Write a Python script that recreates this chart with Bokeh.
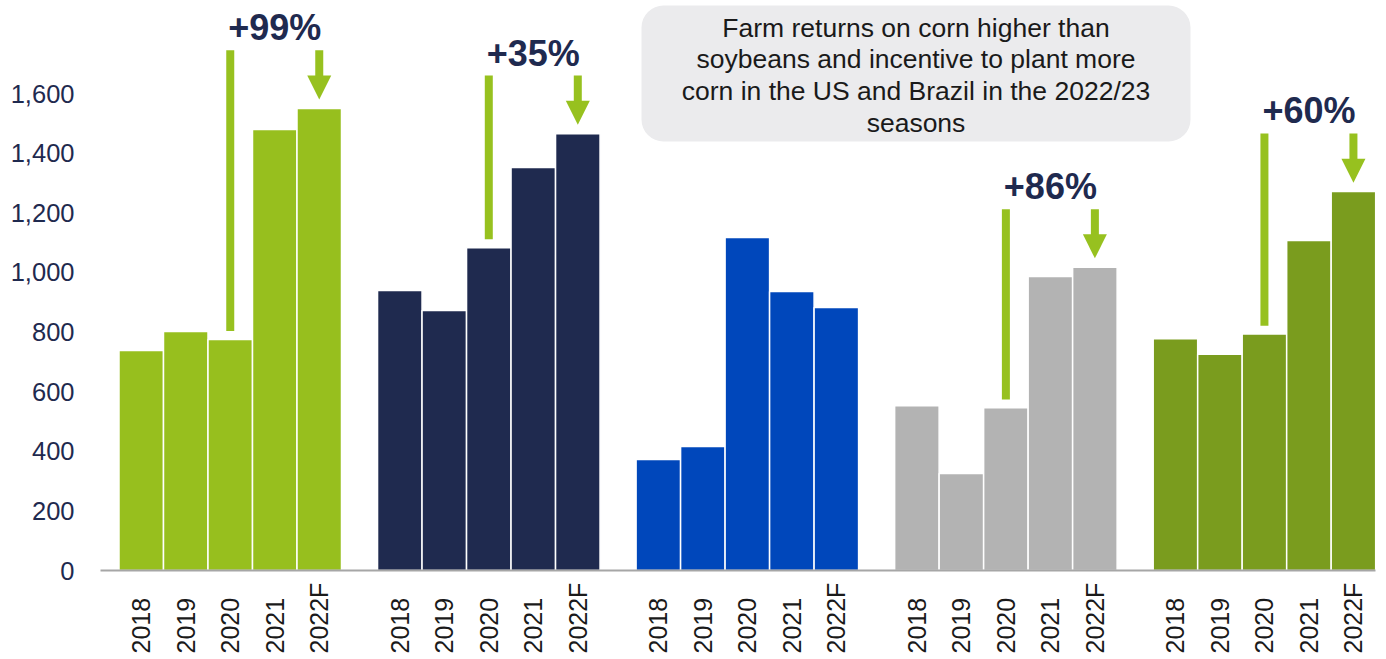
import math
from bokeh.plotting import figure
from bokeh.models import ColumnDataSource, FixedTicker, NumeralTickFormatter, Range1d, BoxAnnotation
from bokeh.core.properties import value
from bokeh.embed import file_html
from bokeh.resources import INLINE

# ---------------- data ----------------
years = ["2018", "2019", "2020", "2021", "2022F"]
group1 = [738, 802, 775, 1479, 1550]
group2 = [939, 872, 1083, 1352, 1465]
group3 = [372, 416, 1117, 936, 882]
group4 = [553, 325, 546, 986, 1017]
group5 = [777, 725, 793, 1107, 1271]
groups = [group1, group2, group3, group4, group5]
group_colors = ["#97BF1E", "#1F2A4F", "#0047BB", "#B3B3B3", "#7A9C1E"]
pct_labels = ["+99%", "+35%", None, "+86%", "+60%"]
y_ticks = [0, 200, 400, 600, 800, 1000, 1200, 1400, 1600]
note_lines = ["Farm returns on corn higher than",
              "soybeans and incentive to plant more",
              "corn in the US and Brazil in the 2022/23",
              "seasons"]

# ---------------- layout ----------------
W, H = 1386, 659
L = 82            # frame left (px)
P = 44.5          # bar pitch (px)
GROUP_STEP = 5.81 # group pitch in bar units
S = 477 / 1600    # px per value unit
BASE_PX = 570     # y px of zero
x0 = -(140.75 - L) / P
x1 = x0 + (W - L) / P
y0 = -(H - BASE_PX) / S
y1 = BASE_PX / S

def px_x(px):
    return x0 + (px - L) / P

def px_y(py):
    return (BASE_PX - py) / S

FONT = "Liberation Sans"
NAVY = "#1F2A4F"
ARROW = "#97C11F"

p = figure(width=W, height=H, output_backend="svg", toolbar_location=None,
           x_range=Range1d(x0, x1), y_range=Range1d(y0, y1),
           min_border_left=L, min_border_right=0, min_border_top=0, min_border_bottom=0)
p.outline_line_color = None
p.xgrid.visible = False
p.ygrid.visible = False
p.xaxis.visible = False
p.background_fill_color = "white"
p.border_fill_color = "white"

ya = p.yaxis[0]
ya.ticker = FixedTicker(ticks=y_ticks)
ya.formatter = NumeralTickFormatter(format="0,0")
ya.axis_line_color = None
ya.major_tick_line_color = None
ya.minor_tick_line_color = None
ya.major_label_text_font = FONT
ya.major_label_text_font_size = "25.5px"
ya.major_label_text_color = NAVY
ya.major_label_standoff = 2

# bars
xs, tops, cols = [], [], []
for g, vals in enumerate(groups):
    for i, v in enumerate(vals):
        xs.append(g * GROUP_STEP + i)
        tops.append(v)
        cols.append(group_colors[g])
src = ColumnDataSource(dict(x=xs, top=tops, color=cols))
p.vbar(x="x", top="top", width=1.0, bottom=0, source=src, fill_color="color",
       line_color="white", line_width=1.5)

# baseline
p.segment(x0=[px_x(100)], y0=[0], x1=[px_x(1375)], y1=[0], line_color="#A6A6A6", line_width=2)

# x labels (rotated)
lab_text = [years[i] for g in range(len(groups)) for i in range(len(years))]
p.text(x=xs, y=[px_y(653)] * len(xs), text=lab_text, angle=math.pi / 2,
       text_align="left", text_baseline="middle", text_font=value(FONT),
       text_font_size="25px", text_color="#1A1A1A")

# annotations: line from 2020 bar, arrow onto 2022F bar, percentage label
shaft_w = 8 / P
head_w = 24 / P
head_len = 24 / S
for g, lab in enumerate(pct_labels):
    if lab is None:
        continue
    vals = groups[g]
    xa = g * GROUP_STEP + 2
    xb = g * GROUP_STEP + 4
    top_level = vals[4] + 195
    # vertical line above 2020
    p.quad(left=[xa - shaft_w / 2], right=[xa + shaft_w / 2],
           bottom=[vals[2] + 28], top=[top_level], fill_color=ARROW, line_color=None)
    # arrow down onto 2022F
    tip = vals[4] + 30
    p.quad(left=[xb - shaft_w / 2], right=[xb + shaft_w / 2],
           bottom=[tip + head_len - 5], top=[top_level], fill_color=ARROW, line_color=None)
    p.patch(x=[xb - head_w / 2, xb + head_w / 2, xb],
            y=[tip + head_len, tip + head_len, tip], fill_color=ARROW, line_color=None)
    p.text(x=[(xa + xb) / 2], y=[top_level + 2 / S], text=[lab],
           text_align="center", text_baseline="bottom", text_font=value(FONT),
           text_font_style="bold", text_font_size="36px", text_color=NAVY)

# note box
bx0, bx1 = px_x(641), px_x(1190)
by0, by1 = px_y(141), px_y(5)
p.add_layout(BoxAnnotation(left=bx0, right=bx1, bottom=by0, top=by1,
                           fill_color="#EBEBED", fill_alpha=1.0, line_color=None,
                           border_radius=22, level="underlay"))
line_y = [px_y(py) for py in (27, 58, 90, 122)]
p.text(x=[(bx0 + bx1) / 2] * len(note_lines), y=line_y, text=note_lines,
       text_align="center", text_baseline="middle", text_font=value(FONT),
       text_font_size="26.5px", text_color="#1A1A1A")

open("out.html", "w").write(file_html(p, INLINE))
